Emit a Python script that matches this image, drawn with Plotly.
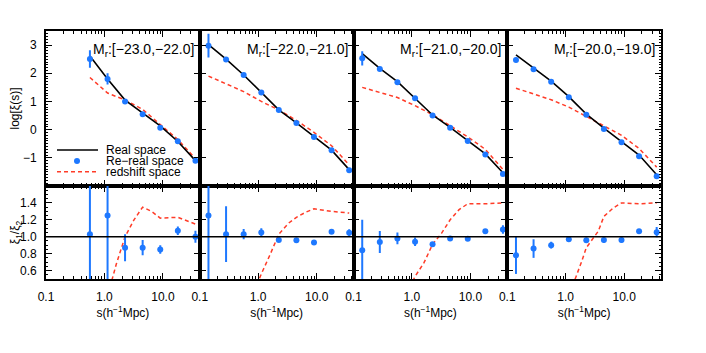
import plotly.graph_objects as go
from plotly.subplots import make_subplots

# separations s (h^-1 Mpc) of the measured bins
S = [0.141, 0.282, 0.564, 1.13, 2.25, 4.5, 9.0, 18.0, 36.0]

PANEL_LABELS = [
    "M<sub>r</sub>:[−23.0,−22.0]",
    "M<sub>r</sub>:[−22.0,−21.0]",
    "M<sub>r</sub>:[−21.0,−20.0]",
    "M<sub>r</sub>:[−20.0,−19.0]",
]

# ── top row: log xi(s) ─────────────────────────────────────────────────────
# first panel starts at the third bin
REAL = [
    [2.61, 1.80, 1.05, 0.58, 0.13, -0.42, -1.10],
    [3.02, 2.50, 1.94, 1.32, 0.70, 0.24, -0.25, -0.73, -1.42],
    [2.70, 2.17, 1.70, 1.12, 0.52, 0.08, -0.38, -0.86, -1.53],
    [2.65, 2.18, 1.72, 1.17, 0.55, 0.05, -0.42, -0.90, -1.60],
]
REREAL = [
    [2.51, 1.80, 1.00, 0.55, 0.07, -0.41, -1.10],
    [2.98, 2.49, 1.94, 1.32, 0.70, 0.235, -0.26, -0.73, -1.44],
    [2.53, 2.15, 1.68, 1.11, 0.50, 0.07, -0.40, -0.88, -1.57],
    [2.47, 2.14, 1.70, 1.15, 0.53, 0.02, -0.45, -0.94, -1.65],
]
REREAL_ERR = [
    [0.31, 0.20, 0.07, 0.05, 0.04, 0.04, 0.05],
    [0.42, 0.08, 0.05, 0.04, 0.03, 0.03, 0.03, 0.03, 0.06],
    [0.25, 0.04, 0.04, 0.03, 0.03, 0.03, 0.03, 0.03, 0.06],
    [0.08, 0.04, 0.04, 0.03, 0.03, 0.03, 0.03, 0.03, 0.06],
]
REDSHIFT = [
    [1.85, 1.30, 1.05, 0.72, 0.18, -0.35, -1.03],
    [1.90, 1.62, 1.35, 1.00, 0.70, 0.33, -0.10, -0.57, -1.25],
    [1.50, 1.32, 1.14, 0.85, 0.53, 0.14, -0.26, -0.70, -1.41],
    [1.47, 1.27, 1.06, 0.80, 0.47, 0.12, -0.20, -0.67, -1.33],
]

# ── bottom row: xi_1 / xi_2 ────────────────────────────────────────────────
RATIO = [
    [1.03, 1.25, 0.87, 0.87, 0.85, 1.07, 1.00],
    [1.25, 1.03, 1.03, 1.05, 0.96, 0.957, 0.933, 1.058, 1.047],
    [0.84, 0.937, 0.98, 0.94, 0.91, 0.98, 0.977, 1.065, 1.085],
    [0.78, 0.86, 0.90, 0.97, 0.957, 0.96, 0.96, 1.065, 1.054],
]
RATIO_ERR = [
    [0.75, 0.75, 0.16, 0.09, 0.05, 0.05, 0.07],
    [0.80, 0.33, 0.06, 0.05, 0.02, 0.02, 0.02, 0.02, 0.04],
    [0.36, 0.13, 0.07, 0.05, 0.02, 0.02, 0.02, 0.02, 0.05],
    [0.22, 0.11, 0.04, 0.02, 0.03, 0.03, 0.03, 0.02, 0.06],
]
RED_RATIO_S = [
    [0.564, 1.13, 1.6, 2.25, 3.2, 4.5, 6.4, 9.0, 18.0, 36.0],
    [0.564, 1.13, 1.6, 2.25, 3.3, 4.5, 6.5, 9.0, 18.0, 36.0],
    [0.564, 1.13, 1.6, 2.25, 3.2, 4.5, 6.4, 9.0, 18.0, 36.0],
    [0.564, 1.13, 1.86, 2.25, 3.6, 4.5, 6.5, 9.0, 18.0, 36.0],
]
RED_RATIO = [
    [-0.3, 0.30, 0.68, 1.00, 1.20, 1.35, 1.30, 1.22, 1.23, 1.15],
    [0.05, 0.56, 0.79, 1.03, 1.16, 1.23, 1.29, 1.33, 1.30, 1.28],
    [0.10, 0.53, 0.69, 0.91, 1.04, 1.20, 1.32, 1.39, 1.39, 1.40],
    [-0.1, 0.30, 0.70, 0.87, 1.065, 1.24, 1.34, 1.40, 1.39, 1.40],
]

BLUE = "#1e78ff"
RED = "#ff3c28"
FONT = "Liberation Sans"

fig = make_subplots(
    rows=2, cols=4,
    horizontal_spacing=0, vertical_spacing=0,
    row_heights=[0.625, 0.375],
)

for i in range(4):
    col = i + 1
    s = S[2:] if i == 0 else S
    fig.add_trace(go.Scatter(
        x=s, y=REDSHIFT[i], mode="lines",
        line=dict(color=RED, width=1.5, dash="4px,3px"),
    ), row=1, col=col)
    fig.add_trace(go.Scatter(
        x=s, y=REAL[i], mode="lines",
        line=dict(color="black", width=1.6),
    ), row=1, col=col)
    fig.add_trace(go.Scatter(
        x=s, y=REREAL[i], mode="markers",
        marker=dict(color=BLUE, size=6),
        error_y=dict(type="data", array=REREAL_ERR[i], color=BLUE, thickness=2, width=0),
    ), row=1, col=col)

    fig.add_trace(go.Scatter(
        x=RED_RATIO_S[i], y=RED_RATIO[i], mode="lines",
        line=dict(color=RED, width=1.5, dash="4px,3px"),
    ), row=2, col=col)
    fig.add_trace(go.Scatter(
        x=s, y=RATIO[i], mode="markers",
        marker=dict(color=BLUE, size=6),
        error_y=dict(type="data", array=RATIO_ERR[i], color=BLUE, thickness=2, width=0),
    ), row=2, col=col)

    ax = "" if col == 1 else str(col)
    fig.add_annotation(
        text=PANEL_LABELS[i], showarrow=False,
        xref=f"x{ax} domain", yref=f"y{ax} domain",
        x=0.975, y=0.877, xanchor="right", yanchor="middle",
        font=dict(size=14, color="black", family=FONT),
    )

fig.add_hline(y=1.0, row=2, col="all", line_color="black", line_width=1.5)

# ── hand-drawn legend inside the first panel ──────────────────────────────
def px(xp):
    return (xp - 46) / 615


def py(yp):
    return (279 - yp) / 248


legend_items = ["Real space", "Re−real space", "redshift space"]
legend_y = [150, 161, 171.7]
fig.add_shape(type="line", xref="paper", yref="paper",
              x0=px(57), x1=px(98), y0=py(150), y1=py(150),
              line=dict(color="black", width=1.6))
fig.add_shape(type="circle", xref="paper", yref="paper",
              x0=px(74), x1=px(80), y0=py(164), y1=py(158),
              fillcolor=BLUE, line=dict(color=BLUE, width=0))
fig.add_shape(type="line", xref="paper", yref="paper",
              x0=px(57), x1=px(97), y0=py(171.7), y1=py(171.7),
              line=dict(color=RED, width=1.5, dash="4px,3px"))
for name, yy in zip(legend_items, legend_y):
    fig.add_annotation(
        text=name, showarrow=False, xref="paper", yref="paper",
        x=px(104), y=py(yy), xanchor="left", yanchor="middle",
        font=dict(size=12, color="black", family=FONT),
    )

# ── axes ──────────────────────────────────────────────────────────────────
minor_x = [0.2, 0.3, 0.4, 0.5, 0.6, 0.7, 0.8, 0.9,
           2, 3, 4, 5, 6, 7, 8, 9, 20, 30, 40]
fig.update_xaxes(
    type="log", range=[-1, 1.63], automargin=False,
    tickvals=[0.1, 1, 10], ticktext=["0.1", "1.0", "10.0"],
    ticks="inside", ticklen=6, tickwidth=1.2, tickcolor="black",
    minor=dict(tickvals=minor_x, ticks="inside", ticklen=3, tickwidth=1, tickcolor="black"),
    showline=True, linecolor="black", linewidth=1.6, mirror="allticks",
    showgrid=False, zeroline=False,
    ticklabelstandoff=6,
    tickfont=dict(size=12, color="black", family=FONT),
)
fig.update_xaxes(showticklabels=False, row=1)
for col in range(1, 5):
    fig.update_xaxes(
        title=dict(text="s(h<sup>−1</sup>Mpc)", standoff=0,
                   font=dict(size=12, color="black", family=FONT)),
        row=2, col=col,
    )

fig.update_yaxes(
    automargin=False,
    ticks="inside", ticklen=6, tickwidth=1.2, tickcolor="black",
    showline=True, linecolor="black", linewidth=1.6, mirror="allticks",
    showgrid=False, zeroline=False,
    ticklabelstandoff=5,
    tickfont=dict(size=12, color="black", family=FONT),
)
fig.update_yaxes(
    range=[-2, 3.5], tickvals=[-1, 0, 1, 2, 3],
    minor=dict(dtick=0.1, tick0=0, ticks="inside", ticklen=2, tickwidth=0.7, tickcolor="black"),
    row=1,
)
fig.update_yaxes(
    range=[0.5, 1.6], tickvals=[0.6, 0.8, 1.0, 1.2, 1.4], ticktext=["0.6", "0.8", "1.0", "1.2", "1.4"],
    minor=dict(dtick=0.05, tick0=0, ticks="inside", ticklen=2, tickwidth=0.7, tickcolor="black"),
    row=2,
)
for col in range(2, 5):
    fig.update_yaxes(showticklabels=False, row=1, col=col)
    fig.update_yaxes(showticklabels=False, row=2, col=col)
fig.update_yaxes(title=dict(text="log[ξ(s)]", standoff=3,
                            font=dict(size=12, color="black", family=FONT)), row=1, col=1)
fig.update_yaxes(title=dict(text="ξ<sub>1</sub>/ξ<sub>2</sub>", standoff=0,
                            font=dict(size=12, color="black", family=FONT)), row=2, col=1)

fig.update_layout(
    width=698, height=345,
    margin=dict(l=38, r=45, t=23, b=74),
    paper_bgcolor="white", plot_bgcolor="white",
    showlegend=False,
    font=dict(family=FONT, size=12, color="black"),
)

fig.write_html("out.html")
